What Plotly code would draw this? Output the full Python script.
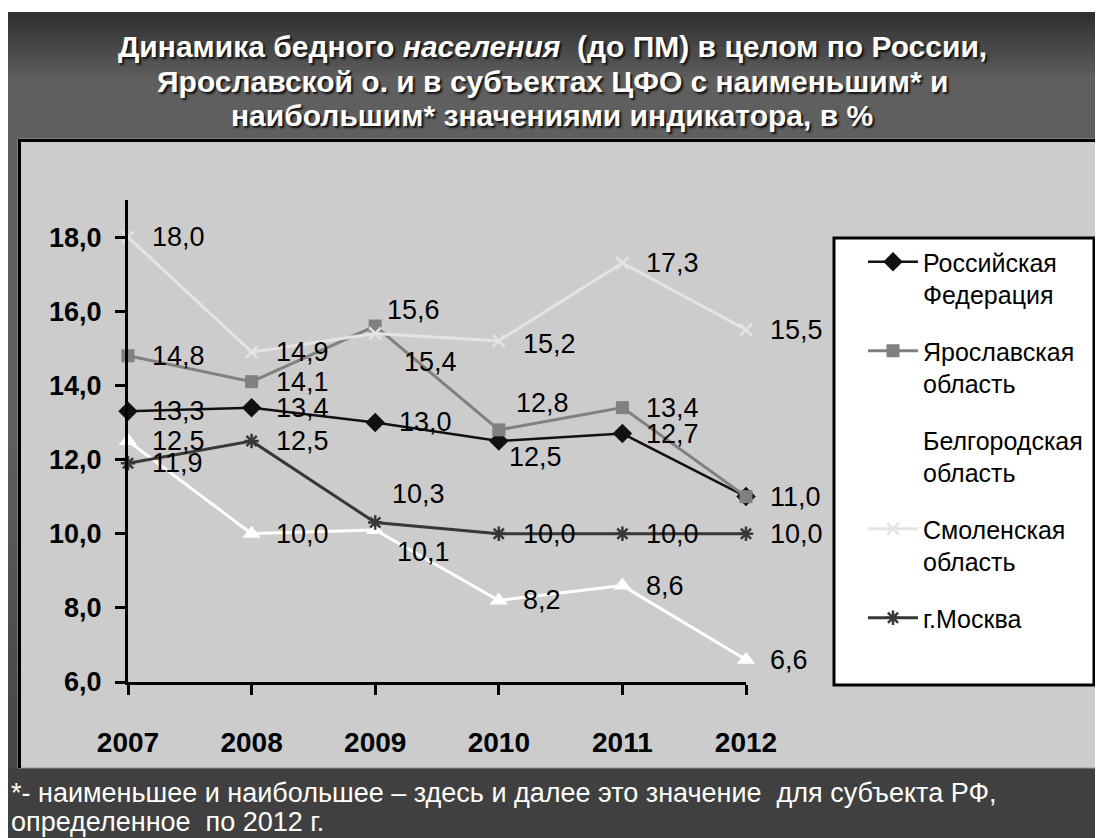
import plotly.graph_objects as go

# data
years = [2007, 2008, 2009, 2010, 2011, 2012]
russia = [13.3, 13.4, 13.0, 12.5, 12.7, 11.0]
yaroslavl = [14.8, 14.1, 15.6, 12.8, 13.4, 11.0]
belgorod = [12.5, 10.0, 10.1, 8.2, 8.6, 6.6]
smolensk = [18.0, 14.9, 15.4, 15.2, 17.3, 15.5]
moscow = [11.9, 12.5, 10.3, 10.0, 10.0, 10.0]

series_names = ["Российская<br>Федерация", "Ярославская<br>область",
                "Белгородская<br>область", "Смоленская<br>область", "г.Москва"]
y_ticks = [6, 8, 10, 12, 14, 16, 18]

title_lines = [
    "Динамика бедного <i>населения</i>  (до ПМ) в целом по России,",
    "Ярославской о. и в субъектах ЦФО с наименьшим* и",
    "наибольшим* значениями индикатора, в %",
]
footnote = ["*- наименьшее и наибольшее – здесь и далее это значение \u00a0для субъекта РФ,",
            "определенное \u00a0по 2012 г."]

# page is offset by the 8px body margin, so the figure is 8px smaller
OFF = 8
W, H = 1103 - OFF, 838 - OFF
L, R, T, B = 128 - OFF, 357, 200 - OFF, 156
FONT = "Liberation Sans, Arial, sans-serif"


def px(x):
    # page pixel -> paper x
    return (x - OFF - L) / (W - L - R)


def py(y):
    # page pixel -> paper y
    return (H - B - (y - OFF)) / (H - T - B)


# styles: color, width, symbol, size, marker color, label offsets (dx, dy), hidden labels
styles = [
    dict(color="#111111", width=2.5, symbol="diamond", size=15, mcolor="#111111",
         dx=[22, 22, 22, 8, 22, 22], dy=[0, 0, 0, -16, 0, 0], hide=[]),
    dict(color="#808080", width=3, symbol="square", size=13, mcolor="#808080",
         dx=[22, 22, 10, 15, 22, 22], dy=[0, 0, 16, 27, 0, 0], hide=[5]),
    dict(color="#ffffff", width=3, symbol="triangle-up", size=16, mcolor="#ffffff",
         dx=[22, 22, 20, 22, 22, 22], dy=[0, 0, -22, 0, 0, 0], hide=[]),
    dict(color="#e4e4e4", width=3, symbol="x-thin-open", size=12, mcolor="#e4e4e4",
         dx=[22, 22, 27, 22, 22, 22], dy=[0, 0, -29, -3, 0, 0], hide=[]),
    dict(color="#383838", width=3, symbol="asterisk-open", size=12, mcolor="#383838",
         dx=[22, 22, 15, 22, 22, 22], dy=[0, 0, 29, 0, 0, 0], hide=[]),
]
all_series = [russia, yaroslavl, belgorod, smolensk, moscow]

fig = go.Figure()
for i, (vals, name, st) in enumerate(zip(all_series, series_names, styles)):
    thin = st["symbol"].endswith("-open")
    fig.add_trace(go.Scatter(
        x=years, y=vals, name=name, mode="lines+markers", legendgroup=str(i),
        line=dict(color=st["color"], width=st["width"]),
        marker=dict(symbol=st["symbol"], size=st["size"], color=st["mcolor"],
                    line=dict(color=st["mcolor"], width=2.5 if thin else 0)),
        cliponaxis=False, hoverinfo="skip",
    ))

annotations = []
for vals, st in zip(all_series, styles):
    for j, (x, v) in enumerate(zip(years, vals)):
        if j in st["hide"]:
            continue
        annotations.append(dict(
            x=x, y=v, xref="x", yref="y", text=f"{v:.1f}".replace(".", ","),
            showarrow=False, xanchor="left", yanchor="middle",
            xshift=st["dx"][j], yshift=st["dy"][j],
            font=dict(family=FONT, size=27, color="black"),
        ))

for k, line in enumerate(title_lines):
    annotations.append(dict(
        x=px(552), y=py(46 + 35 * k), xref="paper", yref="paper", text=line,
        showarrow=False, xanchor="center", yanchor="middle",
        font=dict(family=FONT, size=30, color="white", weight=700,
                  shadow="2px 2px 2px #111"),
    ))
for k, line in enumerate(footnote):
    annotations.append(dict(
        x=px(9), y=py(793 + 29 * k), xref="paper", yref="paper", text=line,
        showarrow=False, xanchor="left", yanchor="middle",
        font=dict(family=FONT, size=27, color="white"),
    ))

# background: dark slide with gradient on top, light grey chart panel, legend box
shapes = [dict(type="rect", xref="paper", yref="paper", x0=px(8), x1=px(1103), y0=py(12), y1=py(838),
               fillcolor="#5f5f5f", line_width=0, layer="below")]
n = 14
for k in range(n):
    g = int(0x30 + (0x5f - 0x30) * k / (n - 1))
    y0 = 12 + k * 5
    shapes.append(dict(type="rect", xref="paper", yref="paper", x0=px(8), x1=px(1103),
                       y0=py(y0), y1=py(y0 + 5), fillcolor=f"rgb({g},{g},{g})",
                       line_width=0, layer="below"))
for k in range(n):
    g = int(0x5f - (0x5f - 0x46) * k / (n - 1))
    y0 = 420 + k * 25
    shapes.append(dict(type="rect", xref="paper", yref="paper", x0=px(8), x1=px(1103),
                       y0=py(y0), y1=py(y0 + 25), fillcolor=f"rgb({g},{g},{g})",
                       line_width=0, layer="below"))
shapes += [
    dict(type="rect", xref="paper", yref="paper", x0=px(8), x1=px(1103), y0=py(768), y1=py(838),
         fillcolor="#404040", line_width=0, layer="below"),
    dict(type="rect", xref="paper", yref="paper", x0=px(18), x1=px(1102), y0=py(139), y1=py(768),
         fillcolor="#cccccc", line=dict(color="#9a9a9a", width=1), layer="below"),
    dict(type="line", xref="paper", yref="paper", x0=px(19.5), x1=px(19.5), y0=py(139), y1=py(768),
         line=dict(color="black", width=3), layer="below"),
    dict(type="line", xref="paper", yref="paper", x0=px(18), x1=px(1102), y0=py(140.5), y1=py(140.5),
         line=dict(color="black", width=3), layer="below"),
    dict(type="rect", xref="paper", yref="paper", x0=px(834), x1=px(1094), y0=py(238), y1=py(685),
         fillcolor="white", line=dict(color="black", width=3), layer="below"),
]

fig.update_layout(
    width=W, height=H,
    margin=dict(l=L, r=R, t=T, b=B),
    paper_bgcolor="white", plot_bgcolor="rgba(0,0,0,0)",
    separators=", ",
    font=dict(family=FONT, color="black"),
    showlegend=True,
    legend=dict(x=px(863), y=py(239), xanchor="left", yanchor="top",
                bgcolor="rgba(0,0,0,0)", borderwidth=0,
                font=dict(family=FONT, size=25, color="black"),
                tracegroupgap=21, itemwidth=50, valign="top", traceorder="grouped"),
    xaxis=dict(range=[2007, 2012], tickvals=years, tickformat="d",
               showline=True, linecolor="black", linewidth=3,
               ticks="outside", ticklen=10, tickwidth=3, tickcolor="black",
               showgrid=False, zeroline=False, ticklabelstandoff=23,
               tickfont=dict(family=FONT, size=28, color="black", weight=700)),
    yaxis=dict(range=[6, 19], tickvals=y_ticks, tickformat=".1f",
               showline=True, linecolor="black", linewidth=3,
               ticks="outside", ticklen=10, tickwidth=3, tickcolor="black",
               showgrid=False, zeroline=False, ticklabelstandoff=8,
               tickfont=dict(family=FONT, size=27, color="black", weight=700)),
    shapes=shapes,
    annotations=annotations,
)

fig.write_html("out.html")
